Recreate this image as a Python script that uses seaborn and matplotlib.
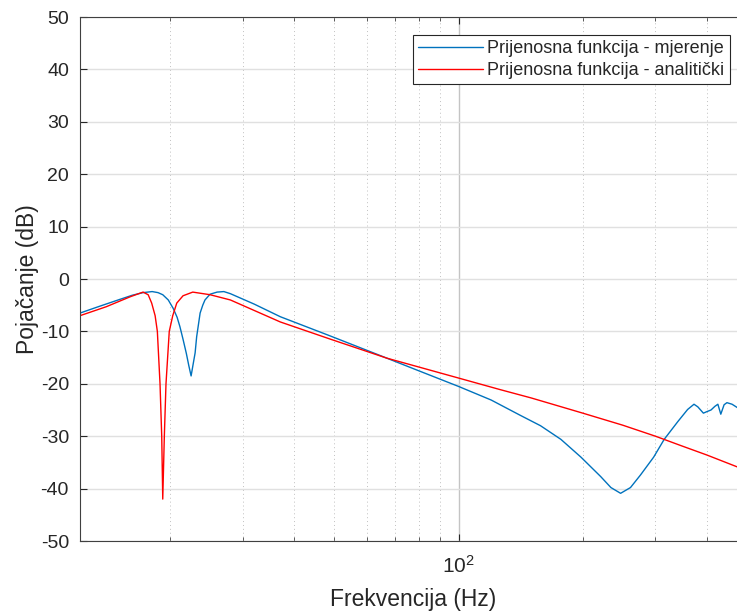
import numpy as np
import pandas as pd
import matplotlib
matplotlib.use('Agg')
import matplotlib.pyplot as plt
import matplotlib.ticker as mticker
import seaborn as sns

freq_meas = [12.1, 13.5, 15.1, 16.2, 17.2, 18.1, 18.7, 19.2, 19.8, 20.35, 20.8, 21.13, 21.5, 21.9,
             22.2, 22.49, 22.8, 23.0, 23.2, 23.45, 23.65, 24.0, 24.3, 25.0, 26.0, 27.0, 28.0, 32.0,
             37.0, 49.0, 67.0, 80.0, 100.0, 120.0, 141.0, 158.0, 177.0, 198.0, 221.0, 234.0, 247.0,
             261.0, 276.0, 297.0, 315.0, 340.0, 359.0, 372.0, 380.0, 392.0, 400.0, 409.0, 418.0,
             425.0, 432.0, 440.0, 447.0, 460.0, 475.0]
gain_meas = [-6.5, -5.2, -3.9, -3.1, -2.6, -2.4, -2.6, -3.0, -4.0, -5.6, -7.3, -9.1, -11.5, -14.2,
             -16.5, -18.5, -15.8, -14.1, -11.0, -8.5, -6.5, -5.0, -4.0, -2.9, -2.5, -2.4, -2.8, -4.8,
             -7.2, -10.9, -15.1, -17.5, -20.5, -23.1, -26.0, -28.0, -30.6, -34.0, -37.7, -39.8, -40.9,
             -39.8, -37.4, -34.0, -30.6, -27.2, -24.9, -23.9, -24.4, -25.6, -25.3, -25.0, -24.3,
             -23.9, -25.8, -24.0, -23.6, -23.9, -24.6]

# analytic transfer function
freq_anal = [12.1, 14.0, 16.0, 17.2, 17.7, 18.05, 18.4, 18.63, 18.91, 19.09, 19.2, 19.37, 19.55,
             19.91, 20.3, 20.76, 21.5, 22.7, 25.0, 28.0, 37.0, 49.0, 67.0, 100.0, 126.0, 150.0,
             200.0, 250.0, 300.0, 346.0, 400.0, 475.0]
gain_anal = [-7.0, -5.3, -3.4, -2.5, -3.0, -4.6, -7.0, -10.0, -20.0, -30.0, -42.0, -30.0, -20.0,
             -10.0, -7.0, -4.6, -3.2, -2.5, -3.0, -4.0, -8.2, -11.5, -15.1, -18.9, -21.1, -22.7,
             -25.6, -27.9, -30.0, -31.8, -33.6, -35.9]

yticks = list(range(-50, 51, 10))

sns.set_style('white')
plt.rcParams['font.family'] = ['Liberation Sans', 'DejaVu Sans']
plt.rcParams['axes.unicode_minus'] = False
plt.rcParams['mathtext.fontset'] = 'custom'
plt.rcParams['mathtext.rm'] = 'Liberation Sans'
plt.rcParams['mathtext.it'] = 'Liberation Sans'

fig = plt.figure(figsize=(7.37, 6.13), dpi=100)
ax = fig.add_axes([80 / 737, 72 / 613, 667 / 737, 524 / 613])

sns.lineplot(x=freq_meas, y=gain_meas, ax=ax, color='#0072BD', linewidth=1.0,
             label='Prijenosna funkcija - mjerenje')
sns.lineplot(x=freq_anal, y=gain_anal, ax=ax, color='#FF0000', linewidth=1.0,
             label='Prijenosna funkcija - analitički')

ax.set_xscale('log')
ax.set_xlim(12.1, 500)
ax.set_ylim(-50, 50)
ax.set_yticks(yticks)
ax.xaxis.set_major_locator(mticker.FixedLocator([100]))
ax.xaxis.set_major_formatter(mticker.FixedFormatter([r'$\mathregular{10^2}$']))
ax.xaxis.set_minor_locator(mticker.LogLocator(base=10, subs=np.arange(2, 10), numticks=20))
ax.xaxis.set_minor_formatter(mticker.NullFormatter())

ax.grid(True, which='major', axis='y', color='#e0e0e0', linewidth=1.0, linestyle='-')
ax.grid(True, which='major', axis='x', color='#c4c4c4', linewidth=1.0, linestyle='-')
ax.grid(True, which='minor', axis='x', color='#c0c0c0', linewidth=0.7, linestyle=(0, (1, 3)))
ax.set_axisbelow(True)

for s in ax.spines.values():
    s.set_color('#404040')
    s.set_linewidth(0.8)

ax.tick_params(axis='both', which='major', direction='in', length=5, width=0.8,
               colors='#262626', labelsize=14, top=True, right=True, left=True, bottom=True)
ax.tick_params(axis='x', which='minor', direction='in', length=3, width=0.6,
               colors='#404040', top=True, bottom=True)
ax.tick_params(axis='x', which='major', pad=10, labelsize=15)
ax.tick_params(axis='y', which='major', pad=8)

ax.set_xlabel('Frekvencija (Hz)', fontsize=16.5, color='#262626', labelpad=8)
ax.set_ylabel('Pojačanje (dB)', fontsize=16.5, color='#262626', labelpad=1)

leg = ax.legend(loc='upper right', bbox_to_anchor=(730 / 737, 1 - 35 / 613),
                bbox_transform=fig.transFigure, fontsize=13, frameon=True, fancybox=False,
                handlelength=3.6, handletextpad=0.25, borderpad=0.3, labelspacing=0.25,
                borderaxespad=0, framealpha=1)
leg.get_frame().set_edgecolor('#262626')
leg.get_frame().set_linewidth(0.8)

fig.savefig('out.png', dpi=100)
